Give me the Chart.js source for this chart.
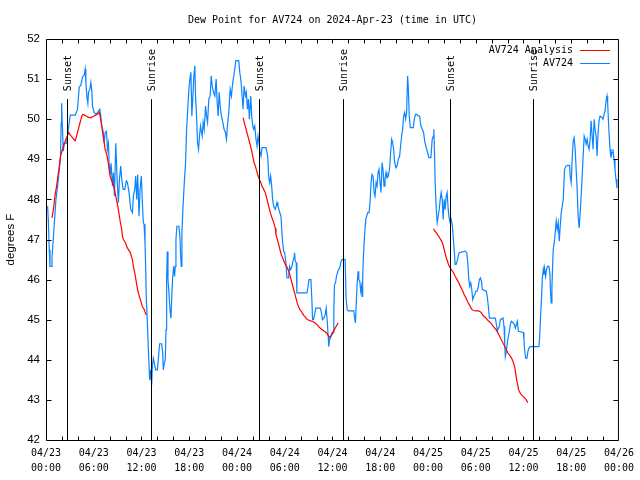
<!DOCTYPE html>
<html>
<head>
<meta charset="utf-8">
<title>Dew Point for AV724</title>
<script src="https://cdn.jsdelivr.net/npm/chart.js@4.4.1/dist/chart.umd.min.js"></script>
<style>
  html, body { margin: 0; padding: 0; background: #fff; }
  canvas { display: block; }
</style>
</head>
<body>
<canvas id="dewChart" width="640" height="480"></canvas>
<script>
// hours since 04/23 00:00 UTC
const tickDates = ['04/23', '04/23', '04/23', '04/23', '04/24', '04/24', '04/24', '04/24', '04/25', '04/25', '04/25', '04/25', '04/26'];
const tickTimes = ['00:00', '06:00', '12:00', '18:00', '00:00', '06:00', '12:00', '18:00', '00:00', '06:00', '12:00', '18:00', '00:00'];
const yTicks = [42, 43, 44, 45, 46, 47, 48, 49, 50, 51, 52];

const sunsetHours = [2.70, 26.80, 50.72];
const sunriseHours = [13.24, 37.30, 61.23];

// AV724 observations
const obsHours = [
    0.20, 0.29, 0.41, 0.50, 0.71, 0.75, 0.91, 1.08, 1.25, 1.46, 1.75, 1.83, 1.90, 1.96, 2.17, 2.29, 2.59, 2.84, 3.05, 3.34,
    3.67, 3.96, 4.17, 4.38, 4.59, 4.80, 4.92, 5.01, 5.13, 5.26, 5.34, 5.51, 5.64, 5.76, 5.84, 6.05, 6.26, 6.60, 6.76, 6.89,
    7.01, 7.18, 7.31, 7.43, 7.60, 7.72, 7.85, 7.93, 8.06, 8.18, 8.35, 8.47, 8.60, 8.77, 8.89, 8.98, 9.10, 9.23, 9.39, 9.52,
    9.69, 9.90, 10.10, 10.23, 10.44, 10.65, 10.86, 10.98, 11.15, 11.27, 11.40, 11.52, 11.69, 11.82, 11.98, 12.11, 12.23, 12.32, 12.44, 12.53,
    12.61, 12.74, 12.86, 13.03, 13.15, 13.28, 13.36, 13.49, 13.61, 13.78, 13.99, 14.11, 14.28, 14.53, 14.66, 14.74, 14.87, 14.99, 15.08, 15.16,
    15.24, 15.33, 15.45, 15.58, 15.70, 15.79, 15.91, 16.04, 16.16, 16.24, 16.33, 16.45, 16.70, 16.83, 16.91, 17.00, 17.08, 17.21, 17.37, 17.54,
    17.67, 17.83, 17.96, 18.08, 18.21, 18.33, 18.46, 18.58, 18.71, 18.79, 18.92, 19.04, 19.17, 19.29, 19.42, 19.55, 19.63, 19.75, 19.88, 20.05,
    20.17, 20.30, 20.46, 20.63, 20.76, 20.88, 21.05, 21.22, 21.38, 21.51, 21.63, 21.76, 21.93, 22.05, 22.22, 22.38, 22.55, 22.68, 22.80, 22.97,
    23.14, 23.30, 23.47, 23.60, 23.72, 23.85, 24.22, 24.35, 24.52, 24.64, 24.77, 24.89, 25.06, 25.18, 25.31, 25.44, 25.56, 25.73, 25.85, 25.98,
    26.10, 26.23, 26.31, 26.39, 26.52, 26.65, 26.77, 26.90, 27.02, 27.15, 27.65, 27.86, 27.98, 28.11, 28.23, 28.36, 28.48, 28.61, 28.82, 29.03,
    29.15, 29.32, 29.53, 29.65, 29.74, 29.86, 29.99, 30.15, 30.28, 30.49, 30.61, 30.74, 30.91, 31.03, 31.16, 31.24, 31.32, 31.45, 31.53, 32.79,
    32.91, 33.04, 33.29, 33.41, 33.50, 33.62, 33.75, 33.91, 34.46, 34.58, 34.75, 34.92, 35.08, 35.21, 35.33, 35.46, 35.54, 35.63, 35.75, 35.92,
    36.09, 36.17, 36.25, 36.38, 36.50, 36.63, 36.75, 36.92, 37.05, 37.17, 37.59, 37.71, 37.84, 38.01, 38.68, 38.76, 38.88, 39.01, 39.09, 39.22,
    39.30, 39.43, 39.55, 39.64, 39.72, 39.80, 39.89, 40.01, 40.14, 40.18, 40.43, 40.60, 40.72, 40.85, 40.97, 41.10, 41.23, 41.35, 41.48, 41.60,
    41.73, 41.85, 41.98, 42.10, 42.23, 42.35, 42.48, 42.60, 42.73, 42.85, 43.02, 43.19, 43.31, 43.44, 43.56, 43.69, 43.81, 43.98, 44.11, 44.27,
    44.44, 44.56, 44.69, 44.82, 44.94, 45.07, 45.19, 45.32, 45.44, 45.53, 45.65, 45.78, 46.15, 46.28, 46.44, 46.61, 46.78, 46.95, 47.11, 47.28,
    47.45, 47.61, 47.78, 47.95, 48.12, 48.37, 48.53, 48.66, 48.74, 48.83, 48.91, 49.04, 49.16, 49.29, 49.41, 49.54, 49.66, 49.79, 49.91, 50.04,
    50.16, 50.29, 50.41, 50.54, 50.66, 50.79, 50.91, 51.04, 51.17, 51.29, 51.42, 51.54, 51.67, 51.79, 51.92, 52.71, 52.88, 53.00, 53.13, 53.25,
    53.38, 53.50, 53.63, 53.75, 53.88, 54.00, 54.17, 54.30, 54.46, 54.59, 54.72, 54.84, 55.34, 55.47, 55.59, 55.72, 56.47, 56.60, 56.72, 56.85,
    56.97, 57.10, 57.43, 57.56, 57.64, 57.72, 57.85, 57.97, 58.10, 58.23, 58.35, 58.48, 58.73, 58.85, 58.98, 59.11, 59.23, 59.36, 59.98, 60.06,
    60.15, 60.27, 60.44, 60.56, 60.69, 60.86, 61.94, 62.03, 62.15, 62.28, 62.36, 62.49, 62.57, 62.65, 62.78, 62.90, 63.03, 63.20, 63.32, 63.41,
    63.49, 63.58, 63.66, 63.74, 63.87, 63.99, 64.12, 64.24, 64.37, 64.50, 64.62, 64.75, 64.87, 65.00, 65.16, 65.33, 65.58, 65.79, 65.87, 66.00,
    66.12, 66.25, 66.37, 66.50, 66.62, 66.75, 66.87, 67.00, 67.13, 67.25, 67.38, 67.50, 67.63, 67.75, 67.88, 68.00, 68.13, 68.25, 68.38, 68.50,
    68.63, 68.75, 68.88, 69.00, 69.13, 69.25, 69.38, 69.50, 69.63, 69.88, 70.00, 70.13, 70.25, 70.38, 70.50, 70.58, 70.67, 70.75, 70.88, 71.00,
    71.13, 71.25, 71.38, 71.50, 71.63, 71.75, 71.83
];
const obsDew = [
    47.83, 47.50, 46.75, 46.33, 46.33, 46.54, 47.00, 47.50, 48.00, 48.33, 48.90, 49.10, 49.90, 50.40, 49.20, 49.40, 49.40, 49.80, 50.10, 50.10,
    50.10, 50.25, 50.80, 50.85, 51.05, 51.10, 51.25, 50.92, 50.58, 50.40, 50.67, 50.75, 50.92, 50.70, 50.33, 50.17, 50.12, 50.20, 50.25, 50.08,
    49.83, 49.70, 49.40, 49.67, 49.70, 49.25, 49.40, 48.90, 48.62, 48.90, 48.33, 48.67, 48.08, 49.40, 48.75, 48.33, 47.92, 48.50, 48.83, 48.50,
    48.25, 48.25, 48.46, 48.42, 48.17, 47.75, 47.67, 48.08, 48.25, 48.58, 48.00, 48.62, 47.58, 48.25, 48.58, 47.92, 47.42, 47.38, 46.92, 46.25,
    45.50, 44.92, 44.25, 43.50, 43.75, 43.38, 43.83, 44.04, 43.92, 43.75, 43.75, 44.00, 44.40, 44.40, 44.20, 43.75, 43.92, 44.00, 44.75, 46.00,
    46.70, 46.00, 45.67, 45.25, 45.04, 45.50, 46.04, 46.33, 46.08, 46.33, 47.00, 47.33, 47.33, 47.08, 46.62, 46.33, 47.17, 47.79, 48.38, 48.92,
    49.75, 50.33, 50.75, 51.00, 51.17, 50.08, 50.58, 51.08, 51.33, 50.58, 50.08, 49.42, 49.25, 49.58, 49.83, 49.67, 49.58, 49.92, 49.75, 50.33,
    50.08, 49.92, 50.50, 50.58, 51.08, 50.83, 50.67, 50.58, 51.00, 50.42, 50.08, 50.67, 50.25, 50.08, 49.92, 49.75, 49.67, 49.50, 49.83, 50.17,
    50.75, 50.58, 50.92, 51.08, 51.25, 51.46, 51.46, 51.17, 50.92, 50.58, 50.25, 50.83, 50.58, 50.67, 50.25, 50.50, 50.00, 50.58, 50.08, 49.83,
    49.75, 49.83, 49.67, 49.50, 49.33, 49.58, 49.42, 49.17, 49.08, 49.29, 49.29, 49.08, 48.58, 48.42, 48.58, 48.33, 48.00, 47.83, 47.75, 47.92,
    47.83, 47.71, 47.58, 47.17, 46.92, 46.71, 46.67, 46.42, 46.04, 46.04, 46.33, 46.25, 46.33, 46.46, 46.54, 46.67, 46.46, 46.42, 45.67, 45.67,
    45.79, 46.00, 46.00, 45.50, 45.00, 45.00, 45.12, 45.29, 45.29, 45.21, 45.00, 45.04, 45.12, 45.29, 45.00, 44.58, 44.33, 44.50, 44.54, 44.67,
    44.67, 45.25, 45.87, 45.92, 46.08, 46.17, 46.25, 46.29, 46.42, 46.50, 46.50, 45.54, 45.25, 45.22, 45.22, 45.08, 44.92, 45.50, 45.87, 46.21,
    46.00, 45.96, 45.71, 45.83, 45.58, 46.08, 46.58, 47.04, 47.42, 47.50, 47.67, 47.67, 47.92, 48.42, 48.62, 48.58, 48.17, 48.08, 48.42, 48.33,
    48.67, 48.75, 48.42, 48.17, 48.92, 48.75, 48.33, 48.50, 48.67, 48.54, 48.58, 48.79, 49.17, 49.50, 49.42, 49.25, 48.92, 48.79, 48.83, 49.00,
    49.08, 49.33, 49.58, 49.75, 50.08, 50.17, 50.00, 50.17, 51.08, 50.79, 50.08, 49.79, 49.79, 50.00, 50.12, 50.12, 50.08, 50.08, 49.83, 49.75,
    49.67, 49.42, 49.29, 49.17, 49.04, 49.04, 49.50, 49.58, 49.75, 49.08, 48.38, 47.75, 47.42, 47.58, 47.75, 48.00, 48.17, 48.00, 47.50, 48.00,
    47.75, 48.08, 48.17, 47.75, 47.54, 47.42, 47.50, 47.38, 47.08, 46.75, 46.38, 46.38, 46.46, 46.58, 46.67, 46.71, 46.67, 46.42, 46.00, 45.83,
    45.92, 45.75, 45.50, 45.58, 45.62, 45.71, 45.71, 45.79, 46.00, 46.04, 45.96, 45.75, 45.71, 45.54, 45.33, 45.04, 45.04, 44.88, 44.71, 44.79,
    44.83, 45.00, 45.04, 44.83, 44.42, 44.08, 44.21, 44.42, 44.58, 44.71, 44.88, 44.96, 44.92, 44.88, 44.79, 44.88, 44.96, 44.71, 44.68, 44.50,
    44.25, 44.04, 44.04, 44.21, 44.29, 44.33, 44.33, 44.54, 45.08, 45.58, 46.00, 46.25, 46.12, 46.29, 46.08, 46.25, 46.33, 46.33, 46.17, 45.67,
    45.42, 45.83, 46.33, 46.75, 46.92, 47.17, 47.46, 47.25, 47.42, 46.96, 47.33, 47.67, 47.83, 48.00, 48.75, 48.83, 48.85, 48.85, 48.58, 48.42,
    49.00, 49.46, 49.54, 49.25, 48.75, 48.25, 47.58, 47.29, 47.67, 48.08, 48.58, 49.08, 49.58, 49.50, 49.38, 49.50, 49.33, 49.25, 49.50, 49.96,
    49.58, 49.25, 50.00, 49.75, 49.58, 49.08, 49.67, 49.96, 50.08, 50.04, 50.00, 50.12, 50.21, 50.46, 50.58, 50.42, 50.00, 49.67, 49.25, 49.04,
    49.17, 49.25, 49.00, 48.75, 48.50, 48.29, 48.29
];

// AV724 Analysis (null = gap between runs)
const anaHours = [
    0.75, 0.96, 1.12, 1.33, 1.50, 1.67, 1.83, 2.08, 2.29, 2.50, 2.67, 2.84, 3.00, 3.17, 3.34, 3.50, 3.67, 3.84, 4.01, 4.17,
    4.34, 4.51, 4.67, 5.01, 5.43, 5.64, 6.05, 6.47, 6.68, 6.80, 6.93, 7.06, 7.18, 7.31, 7.43, 7.56, 7.68, 7.81, 7.93, 8.06,
    8.18, 8.35, 8.52, 8.68, 8.85, 9.02, 9.19, 9.35, 9.52, 9.60, 9.73, 9.98, 10.23, 10.48, 10.61, 10.73, 10.86, 10.98, 11.11, 11.23,
    11.36, 11.48, 11.61, 11.73, 11.86, 11.98, 12.11, 12.23, 12.36, 12.48, 12.61,
    18.00,
    24.77, 24.97, 25.14, 25.31, 25.48, 25.64, 25.81, 25.98, 26.14, 26.31, 26.48, 26.65, 26.81, 26.98, 27.15, 27.36, 27.56, 27.77, 27.98, 28.19,
    28.40, 28.61, 28.82, 28.90, 29.07, 29.24, 29.40, 29.57, 29.74, 29.90, 30.07, 30.24, 30.41, 30.57, 30.74, 30.91, 31.07, 31.24, 31.41, 31.57,
    31.74, 31.91, 32.07, 32.24, 32.41, 32.58, 32.74, 32.91, 33.25, 33.58, 33.75, 33.91, 34.08, 34.25, 34.41, 34.58, 34.75, 34.92, 35.08, 35.25,
    35.42, 35.58, 35.75, 35.92, 36.09, 36.25, 36.42, 36.59, 36.71,
    42.00,
    48.70, 48.87, 49.04, 49.20, 49.37, 49.54, 49.70, 49.87, 50.04, 50.20, 50.37, 50.54, 50.71, 50.87, 51.04, 51.21, 51.37, 51.54, 51.71, 51.87,
    52.04, 52.21, 52.38, 52.54, 52.71, 52.88, 53.04, 53.21, 53.38, 53.55, 53.71, 54.05, 54.38, 54.55, 54.72, 54.88, 55.05, 55.22, 55.38, 55.55,
    55.72, 55.89, 56.05, 56.22, 56.39, 56.55, 56.72, 56.89, 57.06, 57.22, 57.39, 57.56, 57.72, 57.89, 58.06, 58.23, 58.39, 58.56, 58.73, 58.89,
    59.02, 59.14, 59.27, 59.39, 59.56, 59.73, 59.89, 60.06, 60.23, 60.35, 60.55
];
const anaDew = [
    47.54, 47.79, 48.08, 48.33, 48.58, 48.83, 49.08, 49.25, 49.38, 49.50, 49.58, 49.67, 49.62, 49.58, 49.54, 49.50, 49.46, 49.58, 49.71, 49.83,
    49.96, 50.08, 50.12, 50.08, 50.04, 50.04, 50.08, 50.12, 50.17, 50.08, 49.92, 49.75, 49.58, 49.42, 49.25, 49.17, 49.08, 48.92, 48.75, 48.58,
    48.50, 48.42, 48.33, 48.17, 48.00, 47.83, 47.62, 47.42, 47.25, 47.08, 47.00, 46.92, 46.79, 46.71, 46.67, 46.58, 46.50, 46.33, 46.21, 46.08,
    45.92, 45.79, 45.67, 45.58, 45.50, 45.42, 45.33, 45.29, 45.25, 45.17, 45.12,
    null,
    50.04, 49.87, 49.75, 49.62, 49.50, 49.38, 49.25, 49.08, 48.92, 48.83, 48.71, 48.58, 48.50, 48.42, 48.33, 48.25, 48.17, 48.00, 47.83, 47.67,
    47.54, 47.42, 47.28, 47.12, 47.00, 46.88, 46.75, 46.62, 46.54, 46.46, 46.38, 46.33, 46.25, 46.17, 46.04, 45.92, 45.79, 45.67, 45.54, 45.42,
    45.32, 45.25, 45.21, 45.15, 45.10, 45.07, 45.02, 45.00, 44.97, 44.95, 44.93, 44.90, 44.87, 44.83, 44.80, 44.77, 44.75, 44.72, 44.70, 44.67,
    44.62, 44.57, 44.58, 44.62, 44.71, 44.75, 44.82, 44.88, 44.92,
    null,
    47.27, 47.21, 47.17, 47.12, 47.07, 47.02, 46.96, 46.88, 46.75, 46.62, 46.50, 46.40, 46.32, 46.27, 46.22, 46.17, 46.10, 46.04, 45.98, 45.92,
    45.85, 45.78, 45.71, 45.63, 45.57, 45.50, 45.43, 45.37, 45.30, 45.25, 45.23, 45.22, 45.22, 45.20, 45.17, 45.12, 45.08, 45.05, 45.02, 44.98,
    44.95, 44.92, 44.88, 44.83, 44.79, 44.75, 44.70, 44.63, 44.57, 44.50, 44.43, 44.37, 44.30, 44.23, 44.17, 44.12, 44.08, 44.02, 43.93, 43.83,
    43.67, 43.50, 43.38, 43.25, 43.18, 43.13, 43.10, 43.07, 43.03, 43.00, 42.93
];

const MONO = '"DejaVu Sans Mono", "Liberation Mono", monospace';
const SANS = '"Liberation Sans", Arial, sans-serif';
const RED = '#ff0000';
const BLUE = '#0a84ff';

function toPoints(xs, ys) {
    return xs.map((x, i) => ({ x: x, y: ys[i] }));
}

// gnuplot-like frame: border, inward ticks, sun markers, title, key
const gnuFrame = {
    id: 'gnuFrame',
    afterDatasetsDraw(chart) {
        const { ctx, chartArea: a, scales: { x, y } } = chart;
        const L = a.left + 0.5, R = a.right - 0.5, T = a.top + 0.5, B = a.bottom + 0.5;
        ctx.save();
        ctx.strokeStyle = '#000';
        ctx.fillStyle = '#000';
        ctx.lineWidth = 1;

        // sunset / sunrise markers
        const markTop = a.top + a.height * 0.15;
        const labelY = a.top + a.height * 0.13;
        ctx.font = '10px ' + MONO;
        ctx.textAlign = 'left';
        ctx.textBaseline = 'middle';
        const marks = sunsetHours.map(h => [h, 'Sunset']).concat(sunriseHours.map(h => [h, 'Sunrise']));
        marks.forEach(([h, txt]) => {
            const px = Math.round(x.getPixelForValue(h)) + 0.5;
            ctx.beginPath();
            ctx.moveTo(px, markTop);
            ctx.lineTo(px, B);
            ctx.stroke();
            ctx.save();
            ctx.translate(px + 1, labelY);
            ctx.rotate(-Math.PI / 2);
            ctx.fillText(txt, 0, 0);
            ctx.restore();
        });

        // border
        ctx.beginPath();
        ctx.rect(L, T, R - L, B - T);
        ctx.stroke();

        // inward ticks
        ctx.beginPath();
        yTicks.forEach(v => {
            const py = Math.round(y.getPixelForValue(v)) + 0.5;
            ctx.moveTo(L, py); ctx.lineTo(L + 5, py);
            ctx.moveTo(R, py); ctx.lineTo(R - 5, py);
        });
        for (let h = 2; h < 72; h += 2) {
            const px = Math.round(x.getPixelForValue(h)) + 0.5;
            ctx.moveTo(px, B); ctx.lineTo(px, B - 4);
            ctx.moveTo(px, T); ctx.lineTo(px, T + 4);
        }
        ctx.stroke();

        // title
        ctx.font = '10px ' + MONO;
        ctx.textAlign = 'center';
        ctx.fillText('Dew Point for AV724 on 2024-Apr-23 (time in UTC)', (a.left + a.right) / 2, 20);

        // key
        const keys = [['AV724 Analysis', RED], ['AV724', BLUE]];
        ctx.textAlign = 'right';
        keys.forEach(([txt, col], i) => {
            const ky = 50 + i * 13;
            ctx.fillStyle = '#000';
            ctx.fillText(txt, 573, ky);
            ctx.strokeStyle = col;
            ctx.beginPath();
            ctx.moveTo(580, ky + 0.5);
            ctx.lineTo(610, ky + 0.5);
            ctx.stroke();
        });
        ctx.restore();
    }
};

new Chart(document.getElementById('dewChart').getContext('2d'), {
    type: 'line',
    data: {
        datasets: [{
            label: 'AV724 Analysis',
            data: toPoints(anaHours, anaDew),
            borderColor: RED,
            borderWidth: 1.2,
            pointRadius: 0,
            spanGaps: false,
            tension: 0
        }, {
            label: 'AV724',
            data: toPoints(obsHours, obsDew),
            borderColor: BLUE,
            borderWidth: 1.2,
            pointRadius: 0,
            tension: 0
        }]
    },
    options: {
        responsive: false,
        animation: false,
        devicePixelRatio: 1,
        layout: {
            padding: { left: 0, right: 18, top: 39, bottom: 0 }
        },
        plugins: {
            legend: { display: false },
            tooltip: { enabled: false },
            title: { display: false }
        },
        scales: {
            x: {
                type: 'linear',
                min: 0,
                max: 72,
                grid: { display: false, drawTicks: false },
                border: { display: false },
                afterFit: function(scale) { scale.height = 40; },
                ticks: {
                    stepSize: 6,
                    autoSkip: false,
                    maxRotation: 0,
                    padding: 6,
                    color: '#000',
                    font: { family: MONO, size: 10, lineHeight: 1.5 },
                    callback: function(value) {
                        const i = Math.round(value / 6);
                        return [tickDates[i], tickTimes[i]];
                    }
                }
            },
            y: {
                min: 42,
                max: 52,
                grid: { display: false, drawTicks: false },
                border: { display: false },
                afterFit: function(scale) { scale.width = 46; },
                ticks: {
                    stepSize: 1,
                    padding: 6,
                    color: '#000',
                    font: { family: SANS, size: 11.5 }
                },
                title: {
                    display: true,
                    text: 'degrees F',
                    color: '#000',
                    font: { family: SANS, size: 11.5 },
                    padding: { top: 4, bottom: 0 }
                }
            }
        }
    },
    plugins: [gnuFrame]
});
</script>
</body>
</html>
